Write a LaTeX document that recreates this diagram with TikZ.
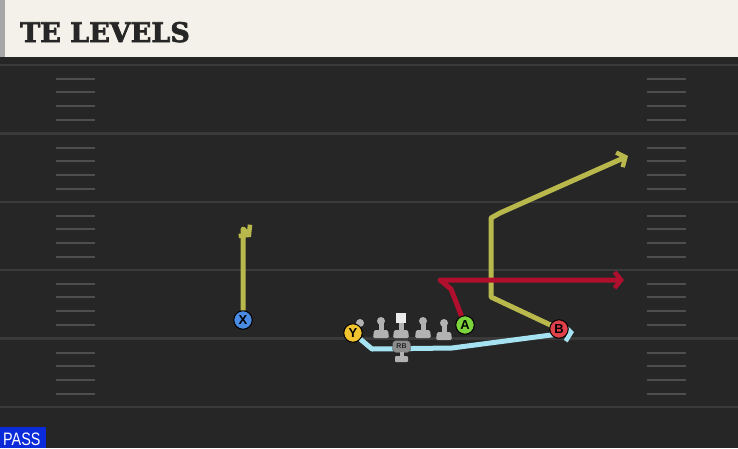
\documentclass[tikz,border=0pt]{standalone}
\usepackage{fontspec}
\usepackage{tikz}
\usetikzlibrary{arrows.meta}
\setsansfont{Liberation Sans}
\newfontfamily\titlefont{DejaVu Serif}[FakeBold=2.5]

\definecolor{fieldgray}{HTML}{262626}
\definecolor{linegray}{HTML}{3A3A3A}
\definecolor{cream}{HTML}{F4F1EA}
\definecolor{routeyellow}{HTML}{B9B84C}
\definecolor{routered}{HTML}{B0102E}
\definecolor{routeblue}{HTML}{A6E3F2}
\definecolor{xblue}{HTML}{4A8BE3}
\definecolor{yyellow}{HTML}{F2C331}
\definecolor{agreen}{HTML}{7BD43C}
\definecolor{bred}{HTML}{E0404A}
\definecolor{passblue}{HTML}{0B2BDA}

\begin{document}
\begin{tikzpicture}[x=1pt, y=-1pt,
  yard/.style={draw=linegray, line width=2.4pt},
  hash/.style={draw=linegray!90!white, line width=2pt},
  route/.style={line width=5pt, line join=round, -{Straight Barb[length=6.5pt,width=16pt,line width=4.5pt]}},
  player/.style={circle, draw=black, line width=1pt, minimum size=18.5pt, inner sep=0pt,
    font=\sffamily\bfseries\fontsize{13}{13}\selectfont},
  lineman/.style={fill=black!30}]
\useasboundingbox (0,0) rectangle (738,448);
% field and header
\fill[fieldgray] (0,0) rectangle (738,448);
\fill[black!85] (0,56) rectangle (738,63);
\fill[cream] (5,0) rectangle (738,57);
\fill[black!35] (0,0) rectangle (5,57);
\node[anchor=base west, inner sep=0pt, text=black!85, font=\titlefont\bfseries\fontsize{27}{27}\selectfont] (title) at (20,42) {TE LEVELS};
% yard lines
\draw[yard] (0,65) -- (738,65);
\draw[yard] (0,133.4) -- (738,133.4);
\draw[yard] (0,201.8) -- (738,201.8);
\draw[yard] (0,270.2) -- (738,270.2);
\draw[yard] (0,338.6) -- (738,338.6);
\draw[yard] (0,407) -- (738,407);
% hash marks
\draw[hash] (56,79)--(95,79) (56,92)--(95,92) (56,106)--(95,106) (56,120)--(95,120);
\draw[hash] (56,148)--(95,148) (56,161)--(95,161) (56,175)--(95,175) (56,189)--(95,189);
\draw[hash] (56,216)--(95,216) (56,229)--(95,229) (56,243)--(95,243) (56,257)--(95,257);
\draw[hash] (56,284)--(95,284) (56,297)--(95,297) (56,311)--(95,311) (56,325)--(95,325);
\draw[hash] (56,353)--(95,353) (56,366)--(95,366) (56,380)--(95,380) (56,394)--(95,394);
\draw[hash] (647,79)--(686,79) (647,92)--(686,92) (647,106)--(686,106) (647,120)--(686,120);
\draw[hash] (647,148)--(686,148) (647,161)--(686,161) (647,175)--(686,175) (647,189)--(686,189);
\draw[hash] (647,216)--(686,216) (647,229)--(686,229) (647,243)--(686,243) (647,257)--(686,257);
\draw[hash] (647,284)--(686,284) (647,297)--(686,297) (647,311)--(686,311) (647,325)--(686,325);
\draw[hash] (647,353)--(686,353) (647,366)--(686,366) (647,380)--(686,380) (647,394)--(686,394);
% offensive line
\fill[lineman] (360,323) circle (4);
\fill[lineman] (381,321) circle (4);
\fill[lineman] (378.5,321) rectangle (383.5,331);
\fill[lineman, rounded corners=1.5pt] (373,338) -- (374,330) -- (388,330) -- (389,338) -- cycle;
\fill[black!8] (396,313) rectangle (406,323);
\fill[lineman] (398.5,323) rectangle (403.5,331);
\fill[lineman, rounded corners=1.5pt] (393,338) -- (394,330) -- (408,330) -- (409,338) -- cycle;
\fill[lineman] (423,321) circle (4);
\fill[lineman] (420.5,321) rectangle (425.5,331);
\fill[lineman, rounded corners=1.5pt] (415,338) -- (416,330) -- (430,330) -- (431,338) -- cycle;
\fill[lineman] (444,323) circle (4);
\fill[lineman] (441.5,323) rectangle (446.5,333);
\fill[lineman, rounded corners=1.5pt] (436,340) -- (437,332) -- (451,332) -- (452,340) -- cycle;
% players
\node[player, fill=xblue] (X) at (243,320) {X};
\node[player, fill=yyellow] (Y) at (353,333) {Y};
\node[player, fill=agreen] (A) at (465,325) {A};
% routes
\draw[route, routeyellow] (X) -- (243,229) -- (251,237);
\draw[route, routeyellow] (559,329) -- (491,297) -- (491,218) -- (500,213) -- (628,156);
\draw[route, routered] (A) -- (451,289) -- (440,280) -- (624,280);
\draw[route, routeblue] (Y) -- (372,349) -- (452,348) -- (574,332);
% running back
\node[draw=black!70, fill=black!45, rounded corners=3.5pt, minimum width=18pt, minimum height=12pt, inner sep=0pt,
  font=\sffamily\bfseries\fontsize{7}{7}\selectfont, text=black!85] (RB) at (401.5,346.5) {RB};
\fill[lineman] (399.5,352) rectangle (403.5,357);
\fill[lineman, rounded corners=1pt] (395,362) -- (395,356) -- (408,356) -- (408,362) -- cycle;
\node[player, fill=bred] (B) at (559,329) {B};
% play type
\fill[passblue] (0,427) rectangle (46,448);
\node[anchor=base west, inner sep=0pt, text=white, font=\sffamily\fontsize{18}{18}\selectfont] (pass) at (3,445) {\scalebox{0.8}[1]{PASS}};
\end{tikzpicture}
\end{document}
